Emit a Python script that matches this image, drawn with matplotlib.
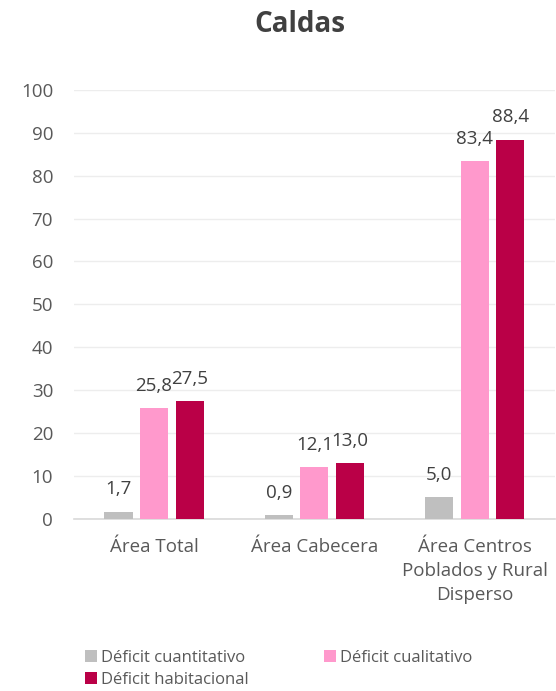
import matplotlib
matplotlib.use("Agg")
import matplotlib.pyplot as plt
import numpy as np

categories = ["Área Total", "Área Cabecera", "Área Centros\nPoblados y Rural\nDisperso"]
series_names = ["Déficit cuantitativo", "Déficit cualitativo", "Déficit habitacional"]
cuantitativo = [1.7, 0.9, 5.0]
cualitativo = [25.8, 12.1, 83.4]
habitacional = [27.5, 13.0, 88.4]
colors = ["#BFBFBF", "#FF99CC", "#BA0047"]
title = "Caldas"

plt.rcParams['font.family'] = ['Open Sans', 'DejaVu Sans']

fig = plt.figure(figsize=(5.56, 6.91), dpi=100)
ax = fig.add_axes([0.133, 0.249, 0.865, 0.621])

x = np.arange(len(categories))
width = 0.175
offset = 0.222
data = [cuantitativo, cualitativo, habitacional]
handles = []
for i, (vals, name, c) in enumerate(zip(data, series_names, colors)):
    pos = x + (i - 1) * offset
    bars = ax.bar(pos, vals, width=width, color=c, label=name, zorder=3)
    handles.append(bars)
    for p, v in zip(pos, vals):
        ax.text(p, v + 4.0, f"{v:.1f}".replace(".", ","), ha="center", va="baseline",
                fontsize=13.5, color="#404040", zorder=4)

ax.set_xlim(-0.5, 2.5)
ax.set_ylim(0, 100)
ax.set_yticks(np.arange(0, 101, 10))
ax.yaxis.grid(True, color="#EDEDED", linewidth=1, zorder=0)
ax.set_axisbelow(True)
for s in ["top", "right", "left"]:
    ax.spines[s].set_visible(False)
ax.spines["bottom"].set_color("#D9D9D9")
ax.spines["bottom"].set_linewidth(1.2)
ax.tick_params(axis="both", length=0, labelsize=13.5, colors="#595959")
ax.tick_params(axis="y", pad=15)
ax.tick_params(axis="x", pad=14)
ax.set_xticks(x)
ax.set_xticklabels(categories, linespacing=1.4)

fig.text(0.54, 0.965, title, ha="center", va="center", fontsize=20, fontweight="bold", color="#404040")

order = [0, 2, 1]
leg = fig.legend([handles[i] for i in order], [series_names[i] for i in order],
                 loc="lower left", bbox_to_anchor=(0.132, -0.012), ncol=2, frameon=False,
                 fontsize=12, handlelength=0.7, handleheight=0.7, handletextpad=0.25,
                 columnspacing=4.55, labelspacing=0.35, borderaxespad=0.3)
for t in leg.get_texts():
    t.set_color("#595959")

fig.savefig("out.png", dpi=100)
